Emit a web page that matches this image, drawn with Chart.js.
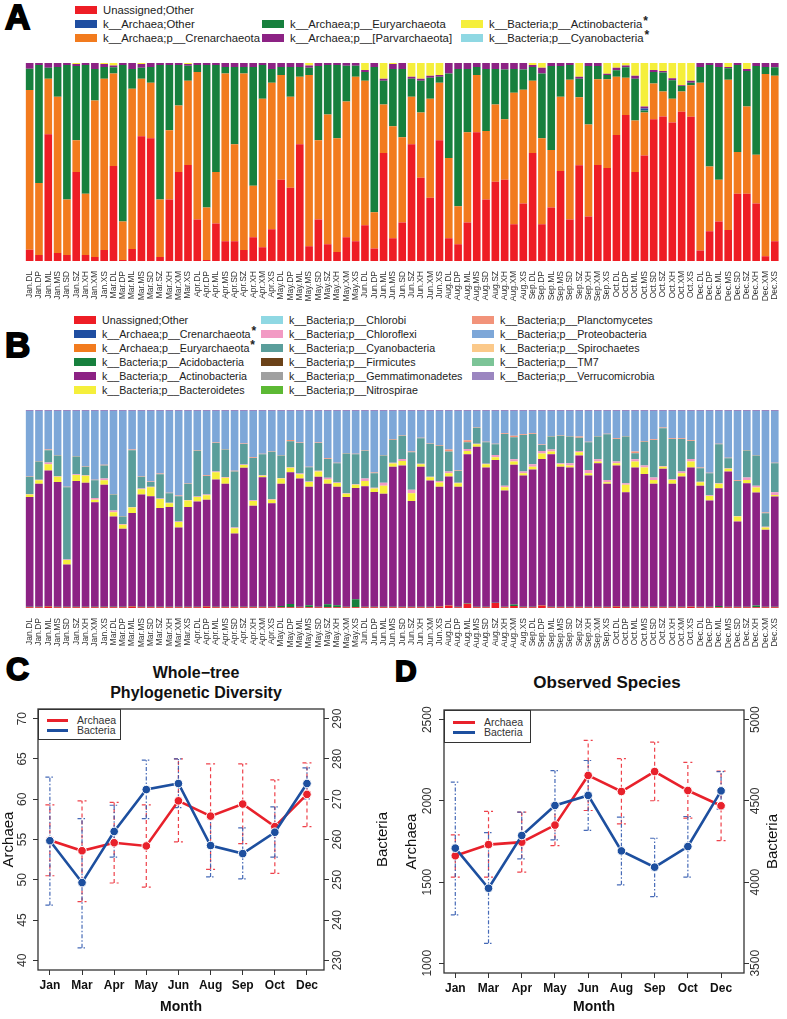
<!DOCTYPE html>
<html>
<head>
<meta charset="utf-8">
<script src="https://cdn.jsdelivr.net/npm/chart.js@4.4.1/dist/chart.umd.min.js"></script>
<style>
  body { margin: 0; background: #fff; font-family: "Liberation Sans", Arial, sans-serif; }
  #page { position: relative; width: 787px; height: 1019px; overflow: hidden; }
  canvas { position: absolute; }
  .letter { position: absolute; font-weight: bold; line-height: 1; color: #000; -webkit-text-stroke: 1.8px #000; }
  .leg { position: absolute; font-size: 11.3px; line-height: 14px; white-space: nowrap; color: #222; }
  #legB .leg { font-size: 10.7px; }
  .leg i { display: inline-block; width: 22px; height: 8px; margin-right: 6px; vertical-align: 0px; }
  .leg b { font-size: 12px; position: relative; top: -3px; margin-left: 1px; }
  .title { position: absolute; font-weight: bold; font-size: 16px; line-height: 20px; text-align: center; color: #111; white-space: nowrap; }
  .lbox { position: absolute; border: 1.2px solid #333; background: #fff; font-size: 10.5px; color: #333; }
  .lbox div { position: absolute; white-space: nowrap; line-height: 10px; }
  .lbox span { position: absolute; height: 2.5px; }
</style>
</head>
<body>
<div id="page">
  <div class="letter" style="left:5px;top:-1px;font-size:35px">A</div>
  <div class="letter" style="left:5px;top:327px;font-size:35px">B</div>
  <div class="letter" style="left:6px;top:653px;font-size:32px">C</div>
  <div class="letter" style="left:395px;top:656px;font-size:30px">D</div>
  <div id="legA"></div>
  <div id="legB"></div>
  <canvas id="chartA" width="787" height="255" style="left:0;top:55px"></canvas>
  <canvas id="chartB" width="787" height="255" style="left:0;top:398px"></canvas>
  <div class="title" style="left:96px;top:663px;width:200px">Whole−tree<br>Phylogenetic Diversity</div>
  <div class="title" style="left:507px;top:673px;width:200px;font-size:17px">Observed Species</div>
  <canvas id="chartC" width="395" height="379" style="left:0;top:640px"></canvas>
  <canvas id="chartD" width="392" height="379" style="left:395px;top:640px"></canvas>
  <div id="legC"></div>
  <div id="legD"></div>
</div>
<script>
// sample names: month x site
const sampleMonths = ["Jan", "Mar", "Apr", "May", "Jun", "Aug", "Sep", "Oct", "Dec"];
const sampleSites = ["DL", "DP", "ML", "MS", "SD", "SZ", "XH", "XM", "XS"];
const sampleLabels = [];
sampleMonths.forEach(m => sampleSites.forEach(s => sampleLabels.push(m + "." + s)));

// Panel A - archaeal community (% read as stack boundaries from bottom)
const unassignedA = [5.7,3,64,4,3,45,3,2,5.5,48, 0.5,6,63,62,2,31,45,48.5,21,0.5, 19,10,10,5.5,12,7,16,41,37,59,
  7.5,21,8.4,4.5,12,10,18,6.3,54.5,11.5, 19.5,59,42,32,61,11.5,8.4,19.5,65,31, 40,41,18.6,29,54.5,18.6,27,45.5,21,48.4,
  22.5,48.5,47,63.6,73.7,45,53.3,71.6,73,70, 75.4,72.8,5.3,15,20,15.7,34,34,29,2.4, 10];
const crenTopA = [86.4,39.4,92,83,31,61,34,81,92,94.7, 20,87,92,90,31,66,78.5,91,95.5,27, 45,94.7,59,94.7,38,82,90,94,83,93,
  94,61,74,62,80.5,93,91,24.6,79,68, 62.5,83,75,82,90,52,27.7,65,94,65.6, 79,71.6,85,86.5,91,62,56,83,91.6,82.7,
  69,91.8,91.8,93,92.6,71,75,89.6,85.6,82, 85.6,88.7,90,47.7,41,91.6,55,78,53.7,94.4, 93.5];
const euryTopA = [97.1,99,97.6,98,99,98.5,99,97,98,97.8, 99,97,97.6,98,99,99,99,98.6,99,99, 99,98,98,98,98,99,97,98,98,98,
  97.6,98.5,99,99,98.6,98.6,95.5,98,91,97, 97,92,91,92.5,93,94.7,97,97,98,97, 97,96.7,97,96.7,98,94.7,98.5,98.5,99,92,
  98.5,98.5,94,96.4,97.8,92,76,95.5,95.2,91.3, 88.4,90,98,99,98,97.3,99,96,98.5,98, 97.8];
const archOtherA = [0,0,0,0,0,0,0,0,0,0, 0,0,0,0,0,0,0,0,0,0, 0,0,0,0,0,0,0,0,0,0,
  0,0,0,0,0,0,0,0,0,0, 0,0,0,0,0,0,0,0,0,0, 0,0,0,0,0,0,0,0,0,0,
  0,0,0,0,0,0,1,0,0,0, 0,0,0,0,0,0,0,0,0,0, 0];
const parvTopA = [100,100,100,100,100,99.5,100,100,99.5,98.8, 100,100,99.5,100,100,100,100,99.5,100,100,
  100,100,100,100,100,100,100,100,100,100, 98.8,100,100,100,100,100,96.5,100,92,99.5,
  100,93,92,93.5,94,100,100,100,100,100, 100,100,100,100,99,97.6,100,100,100,93,
  100,100,94.6,97.6,98.8,93.5,78,96.5,96,92.3, 88.8,91,100,100,100,98,100,97,100,100, 100];

// Panel B - bacterial community
const unassignedB = [0.4,0.4,0.8,0.4,0.4,0.4,0.4,0.4,0.4,0.4, 0.4,0.8,0.4,0.4,0.4,0.4,0.4,0.4,0.4,0.8,
  0.4,0.4,0.4,0.4,0.4,0.4,0.4,0.4,0.4,0.4, 0.4,0.4,0.4,0.4,0.4,0.4,0.4,0.4,0.4,0.4,
  0.4,0.4,0.4,0.4,0.8,1.2,0.4,2.2,0.4,0.4, 2.5,0.4,1.0,0.4,0.4,1.2,0.4,0.4,0.4,0.4,
  0.4,0.4,0.4,0.8,0.4,0.4,0.4,0.4,0.4,0.4, 0.4,0.6,0.4,0.4,0.4,0.4,0.4,0.4,0.4,0.4, 0.4];
const acidoB = [0.2,0.2,0.2,0.2,0.2,0.2,0.2,0.2,0.2,0.2, 0.2,0.2,0.2,0.2,0.2,0.2,0.2,0.2,0.2,0.2,
  0.2,0.2,0.2,0.2,0.2,0.2,0.2,0.6,1.6,0.2, 1.0,0.2,1.5,1.0,0.2,4.0,0.2,0.2,0.2,0.2,
  0.2,0.2,0.2,0.2,0.2,0.2,0.2,0.2,0.2,0.2, 0.2,0.2,0.8,0.2,0.2,0.2,0.2,0.2,0.2,0.2,
  0.2,0.2,0.2,0.2,0.2,0.2,0.2,0.2,0.2,0.2, 0.2,0.2,0.2,0.2,0.6,0.2,0.2,0.2,0.8,0.2, 0.2];
const actinoTopB = [56.0,62.7,69.5,63.6,22.0,64.2,63.3,53.4,62.2,46.2, 40.0,48.0,57.3,56.5,50.5,51.0,40.7,51.0,53.8,54.7,
  64.9,62.7,37.6,70.8,51.6,66.0,52.9,62.7,68.6,65.4, 61.3,66.3,62.7,61.3,56.1,60.6,61.5,58.6,57.7,71.4,
  72.0,54.1,71.4,64.4,61.3,66.4,61.3,77.6,81.5,70.9, 74.8,59.3,72.3,66.9,70.0,75.3,77.6,71.4,70.9,77.0,
  66.9,73.1,62.7,72.0,58.5,70.9,67.7,62.7,70.3,62.7, 66.4,70.9,61.8,54.3,60.5,68.9,43.7,63.0,58.3,39.5, 56.3];
const bacteroTopB = [57.3,64.5,72.6,66.3,24.2,67.2,66.8,54.7,64.5,48.4, 42.1,50.7,60.0,61.0,55.0,52.9,43.4,54.3,56.0,57.0,
  68.5,65.8,40.3,72.2,54.1,66.8,54.7,65.4,70.8,67.6, 63.6,69.0,64.9,63.1,57.7,62.2,64.2,60.4,61.8,73.0,
  74.3,58.0,72.6,66.0,63.4,68.0,63.0,79.3,82.7,72.6, 76.1,61.0,74.0,68.0,71.4,78.0,79.0,72.6,72.0,78.7,
  68.0,74.0,63.5,73.1,62.2,74.0,70.9,64.7,71.4,64.7, 68.0,74.0,63.5,56.6,62.7,70.3,46.2,64.7,60.8,40.7, 57.1];
const chloroTopB = [57.6,64.8,73.5,66.6,24.5,67.5,67.1,55.6,65.4,49.3, 42.4,51.0,60.3,61.3,55.3,53.2,43.7,54.6,56.3,57.3,
  69.0,66.1,40.6,72.5,54.4,67.1,55.0,65.7,71.1,67.9, 63.9,69.3,65.8,63.4,58.0,62.5,65.4,60.7,63.3,73.3,
  75.3,59.7,72.9,66.3,64.2,69.0,63.3,80.3,83.0,72.9, 77.3,61.8,75.1,68.9,72.6,79.3,80.0,73.1,73.1,79.3,
  69.7,75.1,64.7,74.0,63.0,75.1,72.0,65.9,71.7,65.0, 68.9,75.3,63.8,56.9,63.0,70.6,46.5,65.9,61.8,41.0, 58.5];
const cyanoTopB = [66.3,74.0,79.7,77.0,61.0,76.5,71.3,64.5,72.0,57.3, 46.2,79.7,66.3,63.6,67.6,57.9,56.5,62.7,79.4,66.7,
  83.3,80.0,69.0,82.8,75.8,77.6,78.9,77.0,84.2,83.3, 71.1,83.3,75.3,73.1,78.0,77.6,79.4,68.1,77.0,85.0,
  87.0,78.7,85.7,82.9,82.0,79.0,69.2,83.7,91.0,83.7, 82.7,87.9,86.2,87.4,87.9,82.3,86.6,87.0,86.6,86.0,
  83.7,86.6,87.7,85.4,86.6,78.2,84.0,84.9,90.8,85.4, 85.4,84.4,70.6,68.0,82.7,75.6,64.2,79.5,77.0,47.9, 73.1];
const planctoB = [0.3,0.3,0.3,0.3,0.3,0.3,0.3,0.3,0.3,0.3, 0.3,0.3,0.3,0.3,0.3,0.3,0.3,0.3,0.3,0.3,
  0.3,0.3,0.3,0.3,0.3,0.3,0.3,0.3,0.6,0.3, 0.3,0.3,0.3,0.3,0.3,0.3,0.3,0.3,0.3,0.3,
  0.3,0.3,0.3,0.3,0.3,1.0,0.3,1.0,0.3,0.3, 0.3,0.3,0.8,0.3,0.3,0.3,0.3,0.3,0.3,0.6,
  0.3,0.3,0.3,0.3,0.3,0.8,0.3,0.3,0.3,0.3, 0.3,0.3,0.3,0.3,0.3,0.3,0.3,0.3,0.3,0.3, 0.3];
const verrucoB = [0.5,0.5,0.5,0.5,0.5,0.5,0.5,0.5,0.5,0.5, 0.5,0.5,0.5,0.5,0.5,0.5,0.5,0.5,0.5,0.5,
  0.5,0.5,0.5,0.5,0.5,0.5,0.5,0.5,0.5,0.5, 0.5,0.5,0.5,0.5,0.5,0.5,0.5,0.5,0.5,0.5,
  0.5,0.5,0.5,0.5,0.5,0.5,0.5,0.5,0.5,0.5, 0.5,0.5,0.5,0.5,0.5,0.5,0.5,0.5,0.5,0.5,
  0.5,0.5,0.5,0.5,0.5,0.5,0.5,0.5,0.5,0.5, 0.5,0.5,0.5,0.5,0.5,0.5,0.5,0.5,0.5,0.5, 0.5];

// Panel C - whole-tree phylogenetic diversity (mean, error bar low/high)
const months = ["Jan", "Mar", "Apr", "May", "Jun", "Aug", "Sep", "Oct", "Dec"];
const pdArchaea = [54.9, 53.6, 54.6, 54.2, 59.8, 57.9, 59.4, 56.6, 60.6];
const pdArchaeaLo = [50.5, 47.3, 49.6, 49.1, 54.7, 51.3, 54.5, 50.8, 56.6];
const pdArchaeaHi = [59.3, 59.8, 59.6, 59.3, 65.0, 64.4, 64.4, 62.4, 64.5];
const pdBacteria = [259.7, 249.3, 262.0, 272.4, 273.9, 258.5, 256.5, 261.8, 273.9];
const pdBacteriaLo = [243.7, 233.1, 255.6, 265.2, 267.9, 250.7, 250.2, 255.6, 270.1];
const pdBacteriaHi = [275.5, 265.2, 268.5, 279.7, 280.0, 266.0, 262.9, 268.1, 277.8];
const pdLeftTicks = [40, 45, 50, 55, 60, 65, 70];
const pdRightTicks = [230, 240, 250, 260, 270, 280, 290];

// Panel D - observed species
const osArchaea = [1662, 1731, 1746, 1851, 2157, 2058, 2181, 2064, 1970];
const osArchaeaLo = [1530, 1530, 1561, 1725, 1941, 1859, 2001, 1894, 1756];
const osArchaeaHi = [1791, 1935, 1931, 1980, 2373, 2260, 2362, 2237, 2184];
const osBacteria = [4209, 3962, 4287, 4472, 4534, 4192, 4092, 4219, 4562];
const osBacteriaLo = [3798, 3623, 4143, 4260, 4318, 3983, 3911, 4030, 4449];
const osBacteriaHi = [4616, 4305, 4431, 4686, 4749, 4400, 4270, 4404, 4681];
const osLeftTicks = [1000, 1500, 2000, 2500];
const osRightTicks = [3500, 4000, 4500, 5000];

const FONT = '"Liberation Sans", Arial, sans-serif';
Chart.defaults.font.family = FONT;
Chart.defaults.color = "#222";

const diff = (top, bot) => top.map((v, i) => Math.max(0, +(v - bot[i]).toFixed(2)));
const sum = (a, b) => a.map((v, i) => v + b[i]);

// legends (HTML, real text)
function legend(holder, items) {
  const el = document.getElementById(holder);
  items.forEach(it => {
    const d = document.createElement("div");
    d.className = "leg";
    d.style.left = it.x + "px";
    d.style.top = it.y + "px";
    d.innerHTML = `<i style="background:${it.color}"></i>${it.name}${it.star ? "<b>*</b>" : ""}`;
    el.appendChild(d);
  });
}

const colA = { unassigned: "#ee1d25", other: "#1f4ea1", cren: "#f27b1e", eury: "#17803d", parv: "#8c2284", actino: "#f5ef3b", cyano: "#8fd8e3" };
legend("legA", [
  { x: 75, y: 3, color: colA.unassigned, name: "Unassigned;Other" },
  { x: 75, y: 17, color: colA.other, name: "k__Archaea;Other" },
  { x: 75, y: 31, color: colA.cren, name: "k__Archaea;p__Crenarchaeota" },
  { x: 262, y: 17, color: colA.eury, name: "k__Archaea;p__Euryarchaeota" },
  { x: 262, y: 31, color: colA.parv, name: "k__Archaea;p__[Parvarchaeota]" },
  { x: 461, y: 17, color: colA.actino, name: "k__Bacteria;p__Actinobacteria", star: true },
  { x: 461, y: 31, color: colA.cyano, name: "k__Bacteria;p__Cyanobacteria", star: true }
]);

const colB = {
  unassigned: "#ee1d25", cren: "#1f4ea1", eury: "#f27b1e", acido: "#17803d", actino: "#8c2284", bactero: "#f5ef3b",
  chlorobi: "#8fd8e3", chloro: "#f29ac4", cyano: "#5a9e9b", firmi: "#6b4218", gemma: "#a0a0a0", nitro: "#5cb934",
  plancto: "#f2937a", proteo: "#7da7d8", spiro: "#fbc98a", tm7: "#7cc497", verruco: "#9b86c0"
};
const legBNames = [
  ["Unassigned;Other", "unassigned"], ["k__Archaea;p__Crenarchaeota", "cren", 1], ["k__Archaea;p__Euryarchaeota", "eury", 1],
  ["k__Bacteria;p__Acidobacteria", "acido"], ["k__Bacteria;p__Actinobacteria", "actino"], ["k__Bacteria;p__Bacteroidetes", "bactero"],
  ["k__Bacteria;p__Chlorobi", "chlorobi"], ["k__Bacteria;p__Chloroflexi", "chloro"], ["k__Bacteria;p__Cyanobacteria", "cyano"],
  ["k__Bacteria;p__Firmicutes", "firmi"], ["k__Bacteria;p__Gemmatimonadetes", "gemma"], ["k__Bacteria;p__Nitrospirae", "nitro"],
  ["k__Bacteria;p__Planctomycetes", "plancto"], ["k__Bacteria;p__Proteobacteria", "proteo"], ["k__Bacteria;p__Spirochaetes", "spiro"],
  ["k__Bacteria;p__TM7", "tm7"], ["k__Bacteria;p__Verrucomicrobia", "verruco"]
];
const legBCols = [74, 261, 472];
legend("legB", legBNames.map((n, i) => ({
  x: legBCols[Math.floor(i / 6)], y: 313 + (i % 6) * 14, color: colB[n[1]], name: n[0], star: n[2]
})));

// stacked bar panels
function stackedBars(id, datasets, padTop, axisH) {
  return new Chart(document.getElementById(id), {
    type: "bar",
    data: { labels: sampleLabels, datasets },
    options: {
      responsive: false,
      animation: false,
      layout: { padding: { left: 25, right: 4, top: padTop, bottom: 0 } },
      plugins: { legend: { display: false }, tooltip: { enabled: false } },
      scales: {
        x: {
          stacked: true,
          grid: { display: false },
          border: { display: false },
          ticks: { minRotation: 90, maxRotation: 90, autoSkip: false, padding: 2, color: "#333", font: { size: 8.5 } },
          afterFit: s => { s.height = axisH; }
        },
        y: { stacked: true, display: false, min: 0, max: 100 }
      }
    }
  });
}
const bar = (label, data, color) => ({ label, data, backgroundColor: color, borderWidth: 0, barPercentage: 0.82, categoryPercentage: 1 });

stackedBars("chartA", [
  bar("Unassigned;Other", unassignedA, colA.unassigned),
  bar("k__Archaea;p__Crenarchaeota", diff(crenTopA, unassignedA), colA.cren),
  bar("k__Archaea;p__Euryarchaeota", diff(euryTopA, crenTopA), colA.eury),
  bar("k__Archaea;Other", archOtherA, colA.other),
  bar("k__Archaea;p__[Parvarchaeota]", diff(parvTopA, sum(euryTopA, archOtherA)), colA.parv),
  bar("k__Bacteria;p__Actinobacteria", parvTopA.map(v => +(100 - v).toFixed(2)), colA.actino)
], 8, 49);

const actinoB = actinoTopB.map((v, i) => +(v - unassignedB[i] - acidoB[i]).toFixed(2));
const proteoB = cyanoTopB.map((v, i) => +(100 - v - planctoB[i] - verrucoB[i]).toFixed(2));
stackedBars("chartB", [
  bar("Unassigned;Other", unassignedB, colB.unassigned),
  bar("k__Bacteria;p__Acidobacteria", acidoB, colB.acido),
  bar("k__Bacteria;p__Actinobacteria", actinoB, colB.actino),
  bar("k__Bacteria;p__Bacteroidetes", diff(bacteroTopB, actinoTopB), colB.bactero),
  bar("k__Bacteria;p__Chloroflexi", diff(chloroTopB, bacteroTopB), colB.chloro),
  bar("k__Bacteria;p__Cyanobacteria", diff(cyanoTopB, chloroTopB), colB.cyano),
  bar("k__Bacteria;p__Planctomycetes", planctoB, colB.plancto),
  bar("k__Bacteria;p__Proteobacteria", proteoB, colB.proteo),
  bar("k__Bacteria;p__Verrucomicrobia", verrucoB, colB.verruco)
], 12, 45);

// line panels with two y axes
const RED = "#e8212b", BLUE = "#1d4f9f";

const errorBars = {
  id: "errorBars",
  beforeDatasetsDraw(chart) {
    const ctx = chart.ctx, sx = chart.scales.x;
    chart.data.datasets.forEach(ds => {
      const sy = chart.scales[ds.yAxisID];
      ctx.save();
      ctx.strokeStyle = ds.errColor;
      ctx.lineWidth = 1.2;
      ctx.setLineDash(ds.errDash);
      ds.errLo.forEach((lo, i) => {
        const x = sx.getPixelForValue(i + 1);
        const y1 = sy.getPixelForValue(lo), y2 = sy.getPixelForValue(ds.errHi[i]);
        ctx.beginPath();
        ctx.moveTo(x, y1); ctx.lineTo(x, y2);
        ctx.moveTo(x - 4.5, y1); ctx.lineTo(x + 4.5, y1);
        ctx.moveTo(x - 4.5, y2); ctx.lineTo(x + 4.5, y2);
        ctx.stroke();
      });
      ctx.restore();
    });
  }
};

function frame(o) {
  return {
    id: "frame",
    afterDraw(chart) {
      const ctx = chart.ctx, a = chart.chartArea;
      ctx.save();
      ctx.strokeStyle = "#333";
      ctx.lineWidth = 1.3;
      ctx.strokeRect(a.left, a.top, a.right - a.left, a.bottom - a.top);
      ctx.fillStyle = "#333";
      ctx.textAlign = "center";
      ctx.textBaseline = "middle";
      ctx.font = "12px " + FONT;
      [["yL", o.leftTickX], ["yR", o.rightTickX]].forEach(([id, x]) => {
        const s = chart.scales[id];
        s.ticks.forEach(t => {
          ctx.save();
          ctx.translate(x, s.getPixelForValue(t.value));
          ctx.rotate(-Math.PI / 2);
          ctx.fillText(String(t.value), 0, 0);
          ctx.restore();
        });
      });
      ctx.fillStyle = "#111";
      ctx.font = "15px " + FONT;
      const cy = (a.top + a.bottom) / 2;
      [[o.leftTitleX, "Archaea"], [o.rightTitleX, "Bacteria"]].forEach(([x, txt]) => {
        ctx.save();
        ctx.translate(x, cy);
        ctx.rotate(-Math.PI / 2);
        ctx.fillText(txt, 0, 0);
        ctx.restore();
      });
      ctx.restore();
    }
  };
}

function yAxis(pos, min, max, ticks, width) {
  return {
    position: pos, min, max,
    afterBuildTicks: s => { s.ticks = ticks.map(v => ({ value: v })); },
    ticks: { display: false },
    grid: { drawOnChartArea: false, tickLength: 5, color: "#333" },
    border: { display: false },
    afterFit: s => { s.width = width; }
  };
}

function diversityChart(id, c) {
  const pts = arr => arr.map((v, i) => ({ x: i + 1, y: v }));
  return new Chart(document.getElementById(id), {
    type: "line",
    data: {
      datasets: [
        { label: "Archaea", data: pts(c.arch), yAxisID: "yL", borderColor: RED, backgroundColor: RED,
          errLo: c.archLo, errHi: c.archHi, errColor: "rgba(236,45,55,0.9)", errDash: [4, 3], order: 2,
          borderWidth: 2.6, pointRadius: 4.3, pointBorderColor: "#fff", pointBorderWidth: 1 },
        { label: "Bacteria", data: pts(c.bact), yAxisID: "yR", borderColor: BLUE, backgroundColor: BLUE,
          errLo: c.bactLo, errHi: c.bactHi, errColor: "rgba(50,90,175,0.9)", errDash: [4, 2, 1.5, 2], order: 1,
          borderWidth: 2.6, pointRadius: 4.3, pointBorderColor: "#fff", pointBorderWidth: 1 }
      ]
    },
    options: {
      responsive: false,
      animation: false,
      layout: { padding: { top: c.padTop, left: 0, right: 0, bottom: 0 } },
      plugins: { legend: { display: false }, tooltip: { enabled: false } },
      scales: {
        x: {
          type: "linear", min: c.xMin, max: c.xMax,
          afterBuildTicks: s => { s.ticks = months.map((m, i) => ({ value: i + 1 })); },
          ticks: { callback: v => months[v - 1], color: "#111", padding: 3, font: { size: 12, weight: "bold" } },
          grid: { drawOnChartArea: false, tickLength: 5, color: "#333" },
          border: { display: false },
          title: { display: true, text: "Month", color: "#111", font: { size: 14, weight: "bold" }, padding: { top: 0, bottom: 3 } },
          afterFit: s => { s.height = c.xH; }
        },
        yL: yAxis("left", c.lMin, c.lMax, c.lTicks, c.lW),
        yR: yAxis("right", c.rMin, c.rMax, c.rTicks, c.rW)
      }
    },
    plugins: [errorBars, frame(c)]
  });
}

diversityChart("chartC", {
  arch: pdArchaea, archLo: pdArchaeaLo, archHi: pdArchaeaHi,
  bact: pdBacteria, bactLo: pdBacteriaLo, bactHi: pdBacteriaHi,
  lMin: 38.8, lMax: 71.2, lTicks: pdLeftTicks, rMin: 227.6, rMax: 292.4, rTicks: pdRightTicks,
  xMin: 0.63, xMax: 9.53, padTop: 69, xH: 49, lW: 38, rW: 71,
  leftTickX: 23, rightTickX: 338, leftTitleX: 9, rightTitleX: 383
});

diversityChart("chartD", {
  arch: osArchaea, archLo: osArchaeaLo, archHi: osArchaeaHi,
  bact: osBacteria, bactLo: osBacteriaLo, bactHi: osBacteriaHi,
  lMin: 940, lMax: 2560, lTicks: osLeftTicks, rMin: 3440, rMax: 5060, rTicks: osRightTicks,
  xMin: 0.66, xMax: 9.69, padTop: 70, xH: 46, lW: 49, rW: 43,
  leftTickX: 33, rightTickX: 361, leftTitleX: 17, rightTitleX: 378
});

// small boxed legends inside the line panels
function lineLegend(holder, x, y, w, h, lx, lw, tx, rows) {
  const box = document.createElement("div");
  box.className = "lbox";
  Object.assign(box.style, { left: x + "px", top: y + "px", width: w + "px", height: h + "px" });
  [["Archaea", RED], ["Bacteria", BLUE]].forEach(([name, color], i) => {
    const line = document.createElement("span");
    Object.assign(line.style, { left: lx + "px", top: (rows[i] - 1) + "px", width: lw + "px", background: color });
    const t = document.createElement("div");
    Object.assign(t.style, { left: tx + "px", top: (rows[i] - 5) + "px" });
    t.textContent = name;
    box.appendChild(line);
    box.appendChild(t);
  });
  document.getElementById(holder).appendChild(box);
}
lineLegend("legC", 38, 709, 81, 29, 8, 21, 38, [10, 20]);
lineLegend("legD", 444, 710, 85, 31, 8, 22, 39, [11, 21]);
</script>
</body>
</html>
